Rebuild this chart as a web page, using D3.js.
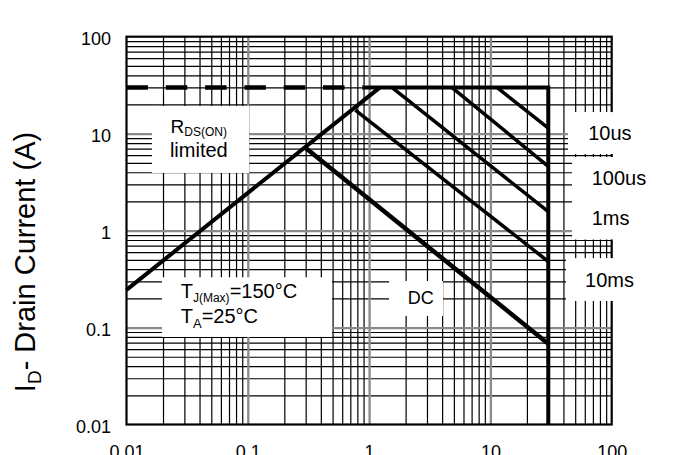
<!DOCTYPE html>
<html><head><meta charset="utf-8">
<script src="https://cdn.jsdelivr.net/npm/d3@7"></script>
<style>
html,body{margin:0;padding:0;background:#fff;}
svg{display:block;}
text{font-family:"Liberation Sans", Arial, sans-serif; fill:#000;}
</style></head><body>
<svg id="chart" width="683" height="455"></svg>
<script>
// ---- data ----
const xTickValues = [0.01, 0.1, 1, 10, 100];
const xTickLabels = ["0.01", "0.1", "1", "10", "100"];
const yTickValues = [0.01, 0.1, 1, 10, 100];
const yTickLabels = ["0.01", "0.1", "1", "10", "100"];
const rdsOnLimit = [[0.01, 0.245], [1.23, 30]];
const currentLimitDashed = [[0.01, 30], [0.9, 30]];
const soaBoundary = [[0.9, 30], [30, 30], [30, 0.01]];
const pulse10us = [[11.3, 30], [30, 11.4]];
const pulse100us = [[4.8, 30], [30, 4.6]];
const pulse1ms = [[1.54, 30], [30, 1.57]];
const pulse10ms = [[0.77, 17.5], [30, 0.48]];
const dcLine = [[0.3, 7.1], [30, 0.068]];
const curveLabels = ["10us", "100us", "1ms", "10ms", "DC"];
const yTitle = ["I", "D", "- Drain Current (A)"];

// ---- layout ----
const svg = d3.select("#chart");
const x = d3.scaleLog().domain([0.01, 100]).range([126.5, 611.7]);
const y = d3.scaleLog().domain([0.01, 100]).range([424.5, 36.7]);
const W = x(100) - x(0.01), H = y(0.01) - y(100);
const isMajor = v => Math.abs(Math.log10(v) - Math.round(Math.log10(v))) < 1e-6;

const minorX = x.ticks().filter(v => !isMajor(v));
const minorY = y.ticks().filter(v => !isMajor(v));
const majorX = xTickValues.filter(v => v > 0.01 && v < 100);
const majorY = yTickValues.filter(v => v > 0.01 && v < 100);

function grid(g, axis, color, width) {
  g.call(axis);
  g.select(".domain").remove();
  g.selectAll(".tick line").attr("stroke", color).attr("stroke-width", width);
}
// minor grid
svg.append("g").attr("transform", `translate(0,${y(0.01)})`)
  .call(g => grid(g, d3.axisBottom(x).tickValues(minorX).tickSize(-H).tickFormat(""), "#000", 1.2));
svg.append("g").attr("transform", `translate(${x(0.01)},0)`)
  .call(g => grid(g, d3.axisLeft(y).tickValues(minorY).tickSize(-W).tickFormat(""), "#000", 1.2));
// decade grid
svg.append("g").attr("transform", `translate(0,${y(0.01)})`)
  .call(g => grid(g, d3.axisBottom(x).tickValues(majorX).tickSize(-H).tickFormat(""), "#8a8a8a", 2.3));
svg.append("g").attr("transform", `translate(${x(0.01)},0)`)
  .call(g => grid(g, d3.axisLeft(y).tickValues(majorY).tickSize(-W).tickFormat(""), "#8a8a8a", 2.3));
// frame
svg.append("rect").attr("x", x(0.01)).attr("y", y(100)).attr("width", W).attr("height", H)
  .attr("fill", "none").attr("stroke", "#000").attr("stroke-width", 2.2);

// white label boxes (data coordinates)
const boxes = [
  {x0: 0.0162, x1: 0.1023, y0: 19.3, y1: 3.93},
  {x0: 0.0196, x1: 0.494, y0: 0.33, y1: 0.08},
  {x0: 1.46, x1: 4.07, y0: 0.302, y1: 0.1316},
  {x0: 43.6, x1: 1000, y0: 16.7, y1: 6.17},
  {x0: 47.1, x1: 1000, y0: 5.74, y1: 0.81},
  {x0: 42.0, x1: 1000, y0: 0.52, y1: 0.188}
];
svg.append("g").selectAll("rect").data(boxes).join("rect")
  .attr("x", d => x(d.x0)).attr("y", d => y(d.y0))
  .attr("width", d => x(d.x1) - x(d.x0)).attr("height", d => y(d.y1) - y(d.y0))
  .attr("fill", "#fff");

// curves
const line = d3.line().x(d => x(d[0])).y(d => y(d[1]));
const curves = [
  {d: currentLimitDashed, w: 4.5, dash: "21.5,17.8"},
  {d: rdsOnLimit, w: 4},
  {d: pulse10us, w: 3.5},
  {d: pulse100us, w: 3.5},
  {d: pulse1ms, w: 3.5},
  {d: pulse10ms, w: 3.5},
  {d: dcLine, w: 4.5},
  {d: soaBoundary, w: 4}
];
svg.append("g").selectAll("path").data(curves).join("path")
  .attr("d", c => line(c.d)).attr("fill", "none").attr("stroke", "#000")
  .attr("stroke-width", c => c.w).attr("stroke-dasharray", c => c.dash || null)
  .attr("stroke-linejoin", "miter");

// tick labels
const yAx = svg.append("g").attr("transform", `translate(${x(0.01)},0)`)
  .call(d3.axisLeft(y).tickValues(yTickValues).tickSize(0).tickPadding(15.5)
    .tickFormat((d, i) => yTickLabels[i]));
yAx.select(".domain").remove();
yAx.selectAll("text").attr("font-size", 18).attr("font-family", null).attr("dy", "0.45em");

const xAx = svg.append("g").attr("transform", `translate(0,${y(0.01)})`)
  .call(d3.axisBottom(x).tickValues(xTickValues).tickSize(0)
    .tickFormat((d, i) => xTickLabels[i]));
xAx.select(".domain").remove();
xAx.selectAll("text").attr("font-size", 18).attr("font-family", null).attr("y", 33.5).attr("dy", 0);

// annotation labels
const ann = svg.append("g").attr("font-size", 20);
const plain = [
  {t: curveLabels[0], vx: 64, vy: 8.7},
  {t: curveLabels[1], vx: 68.4, vy: 2.95},
  {t: curveLabels[2], vx: 68.4, vy: 1.14},
  {t: curveLabels[3], vx: 60.3, vy: 0.26},
  {t: curveLabels[4], vx: 2.08, vy: 0.175, fs: 18},
  {t: "limited", vx: 0.0228, vy: 5.75}
];
ann.selectAll("text.p").data(plain).join("text").attr("class", "p")
  .attr("x", d => x(d.vx)).attr("y", d => y(d.vy))
  .attr("font-size", d => d.fs || null).text(d => d.t);

function subText(vx, vy, main, sub, rest, fs, sfs, dy) {
  const t = ann.append("text").attr("x", x(vx)).attr("y", y(vy)).attr("font-size", fs);
  t.append("tspan").text(main);
  t.append("tspan").attr("font-size", sfs).attr("dy", dy).text(sub);
  if (rest) t.append("tspan").attr("dy", -dy).text(rest);
}
subText(0.0231, 10.1, "R", "DS(ON)", null, 19, 12, 3);
subText(0.028, 0.2, "T", "J(Max)", "=150°C", 20, 12, 3.5);
subText(0.028, 0.112, "T", "A", "=25°C", 20, 13, 5);

// y axis title
const yt = svg.append("text").attr("transform", `translate(35,262) rotate(-90)`)
  .attr("text-anchor", "middle").attr("font-size", 29);
yt.append("tspan").text(yTitle[0]);
yt.append("tspan").attr("font-size", 19).attr("dy", 6).text(yTitle[1]);
yt.append("tspan").attr("dy", -6).text(yTitle[2]);
</script>
</body></html>
